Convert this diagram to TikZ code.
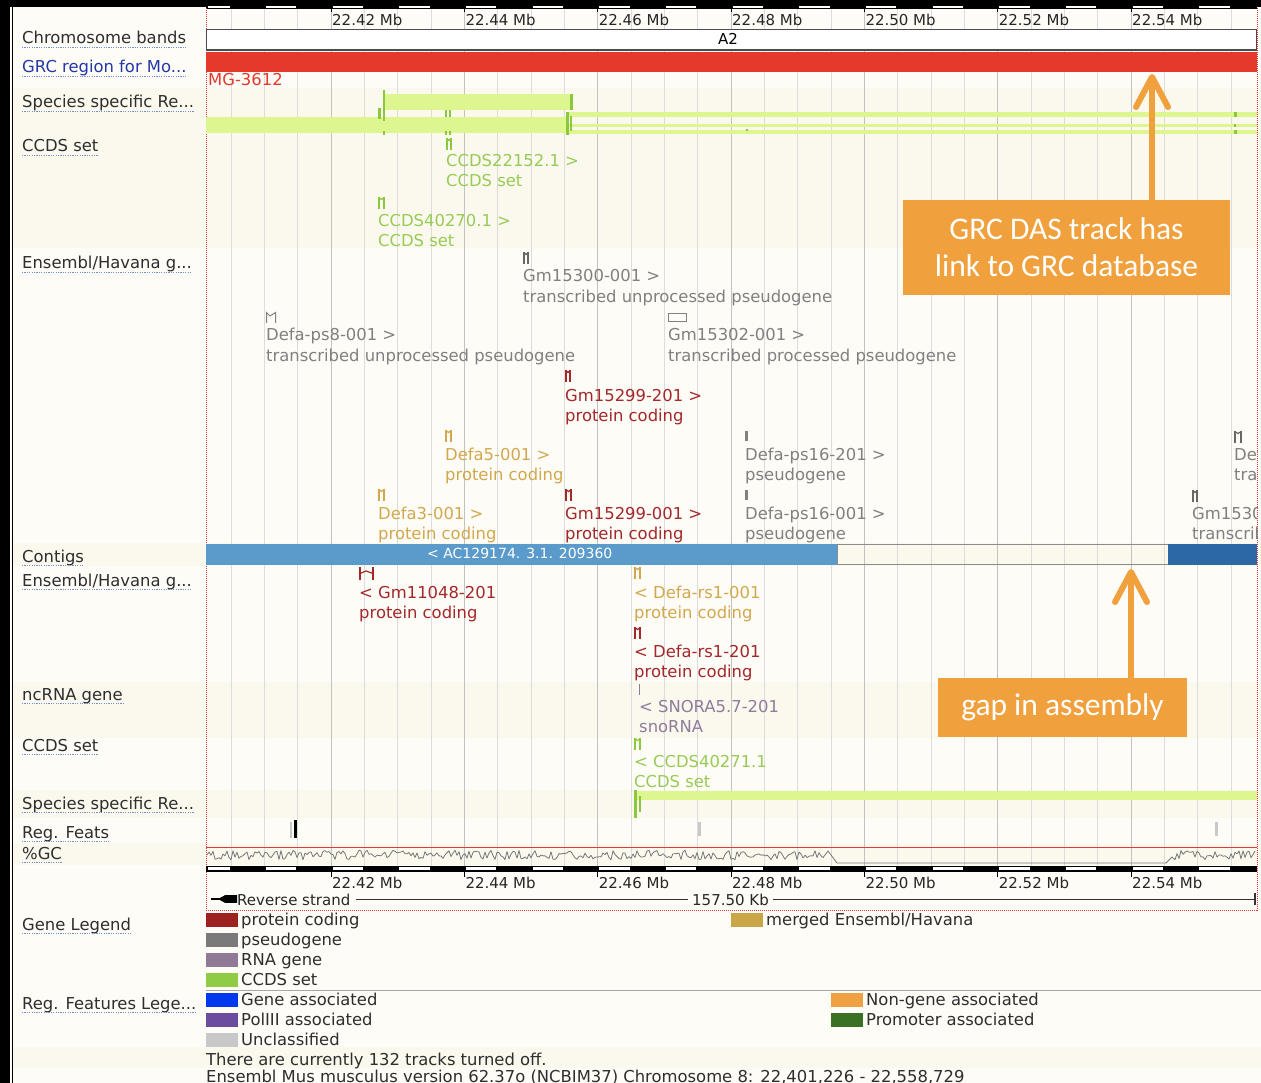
\documentclass[tikz,border=0pt]{standalone}
\usepackage{fontspec}
\setmainfont{DejaVu Sans}
\newfontfamily\calloutfont{Carlito}

\definecolor{panelbg}{HTML}{FEFCF7}
\definecolor{stripebg}{HTML}{FBF9EE}
\definecolor{gridc}{HTML}{DCDCDC}
\definecolor{gridmaj}{HTML}{C2C2C2}
\definecolor{lbltxt}{HTML}{2E2E2E}
\definecolor{lnkblue}{HTML}{7090D0}
\definecolor{grcblue}{HTML}{2438A8}
\definecolor{grcred}{HTML}{E4392B}
\definecolor{sppale}{HTML}{DEF690}
\definecolor{spdark}{HTML}{8CC83C}
\definecolor{ccdstxt}{HTML}{97CB55}
\definecolor{pseudo}{HTML}{808080}
\definecolor{protc}{HTML}{A3282A}
\definecolor{merged}{HTML}{D2A84E}
\definecolor{rnac}{HTML}{8F7C9C}
\definecolor{ctgblue}{HTML}{5B9BCB}
\definecolor{ctgdark}{HTML}{2C68A3}
\definecolor{callout}{HTML}{F0A03C}
\definecolor{gcc}{HTML}{777777}
\definecolor{framered}{HTML}{E03A3A}
\definecolor{swprot}{HTML}{9B221E}
\definecolor{swpseudo}{HTML}{7A7A7A}
\definecolor{swrna}{HTML}{917A97}
\definecolor{swccds}{HTML}{8FCB45}
\definecolor{swmerged}{HTML}{C9A646}
\definecolor{swgene}{HTML}{0038F0}
\definecolor{swpol}{HTML}{6B4C9E}
\definecolor{swuncl}{HTML}{C8C8C8}
\definecolor{swnongene}{HTML}{EFA042}
\definecolor{swprom}{HTML}{3B7124}

% track name on the left, with a dotted link underline
\newcommand\tracklabel[4][lbltxt]{%
  \node[lbl,text=#1] (#2) at (22,#3) {#4};
  \draw[lnkblue,line width=0.9,dash pattern=on 1.2pt off 1.2pt]
    ([yshift=-3pt]#2.base west) -- ([yshift=-3pt]#2.base east);
}
% two-line feature caption: name, x, baseline, colour, first line, second line
\newcommand\genelabel[6]{%
  \node[lbl,text=#4] (#1a) at (#2,#3) {#5};
  \node[lbl,text=#4] (#1b) at (#2,{#3+20}) {#6};
}
% small transcript glyph: x, top, width, colour
\newcommand\exonpair[4]{%
  \fill[#4] (#1,#2) rectangle ({#1+2.4},{#2+12});
  \fill[#4] ({#1+#3-2.4},#2) rectangle ({#1+#3},{#2+12});
  \draw[#4,line width=1.2] ({#1+1},{#2+0.6}) -- ({#1+#3/2},{#2+2.5}) -- ({#1+#3-1},{#2+0.6});
}
% legend entry: name, x, top, colour, text
\newcommand\legitem[5]{%
  \fill[#4] (#2,#3) rectangle ({#2+32},{#3+14});
  \node[lbl,text=lbltxt] (#1) at ({#2+35},{#3+12}) {#5};
}

\begin{document}
\begin{tikzpicture}[x=1pt,y=-1pt,
  lbl/.style={anchor=base west,inner sep=0pt,font=\fontsize{16.4}{19}\selectfont},
  rul/.style={anchor=base west,inner sep=0pt,font=\fontsize{15}{18}\selectfont,text=black!85},
  callbox/.style={fill=callout,text=white,align=center,inner sep=0pt,
    font=\calloutfont\fontsize{31.5}{37}\selectfont},
  callarrow/.style={callout,line width=6,line cap=round,line join=round}]

\useasboundingbox (0,0) rectangle (1261,1083);

% page and row shading
\fill[panelbg] (0,0) rectangle (1261,1083);
\foreach \ya/\yb in {88/248,543/566,682/738,790/818,843/865,1047/1068}
  \fill[stripebg] (13,\ya) rectangle (1261,\yb);

% outer dark frame
\fill[black] (0,0) rectangle (1261,7);
\fill[black] (0,0) rectangle (10,1083);
\draw[black,line width=1.2] (12.6,0) -- (12.6,1083);

% vertical grid (every 5 kb)
\foreach \k in {-3,...,27}
  \draw[gridc,line width=0.9] ({331+33.333*\k},8) -- ({331+33.333*\k},866);
\foreach \k in {0,...,6}
  \draw[gridmaj,line width=1] ({331+133.333*\k},8) -- ({331+133.333*\k},866);

% top scale bar
\fill[black] (206,0) rectangle (1257,9);
\fill[white] (207.5,6.3) rectangle (229.5,8.2);
\foreach \j in {1,...,15}
  \fill[white] ({197.67+66.667*\j+1.5},6.3) rectangle ({231+66.667*\j-1.5},8.2);
\foreach \k/\t in {0/22.42,1/22.44,2/22.46,3/22.48,4/22.50,5/22.52,6/22.54}{
  \draw[black,line width=1] ({331+133.333*\k},8) -- ({331+133.333*\k},12);
  \node[rul] (tl\k) at ({331+133.333*\k+1},26) {\t\ Mb};
}

% red dotted image frame
\draw[framered,line width=0.9,dash pattern=on 1pt off 1pt]
  (206,8) -- (206,910) -- (1257,910) -- (1257,8);

% track names
\tracklabel{lchr}{44}{Chromosome bands}
\tracklabel[grcblue]{lgrc}{73}{GRC region for Mo...}
\tracklabel{lsp}{108}{Species specific Re...}
\tracklabel{lccds}{152}{CCDS set}
\tracklabel{lens}{269}{Ensembl/Havana g...}
\tracklabel{lctg}{562}{Contigs}
\tracklabel{lensr}{586}{Ensembl/Havana g...}
\tracklabel{lnc}{700}{ncRNA gene}
\tracklabel{lccdsr}{751}{CCDS set}
\tracklabel{lspr}{809}{Species specific Re...}
\tracklabel{lreg}{838}{Reg. Feats}
\tracklabel{lgc}{859}{\%GC}
\tracklabel{lgleg}{930}{Gene Legend}
\tracklabel{lrleg}{1009}{Reg. Features Lege...}

\begin{scope}
\clip (206,0) rectangle (1257,911);

% chromosome band
\draw[black!70,line width=1.5,fill=white] (206.5,29.5) rectangle (1256.5,50);
\node[anchor=base,inner sep=0pt,font=\fontsize{15}{18}\selectfont] (band) at (728,45) {A2};

% GRC region
\fill[grcred] (206,52.5) rectangle (1257,72);
\node[lbl,text=grcred] (mg) at (208,86) {MG-3612};

% species specific repeats, forward strand
\fill[sppale] (384,94) rectangle (572,110);
\fill[sppale] (206,117) rectangle (567,133);
\fill[sppale] (567,112) rectangle (1257,117.5);
\fill[sppale] (567,124) rectangle (1257,127);
\fill[sppale] (567,130.5) rectangle (1257,134);
\fill[spdark] (382.5,90) rectangle (385,121);
\fill[spdark] (378,108) rectangle (380.5,119);
\fill[spdark] (382.5,131) rectangle (385,135);
\fill[spdark] (570,94) rectangle (573,110);
\fill[spdark] (445,110) rectangle (447,117);
\fill[spdark] (449,110) rectangle (451,117);
\fill[spdark] (445,131) rectangle (447,135);
\fill[spdark] (449,131) rectangle (451,135);
\fill[spdark] (566,112) rectangle (568.5,135);
\fill[spdark] (569.5,116) rectangle (572,131);
\fill[spdark] (746,129.5) rectangle (748,131.5);
\fill[spdark] (1234,112) rectangle (1237,117.5);
\fill[spdark] (1234,124) rectangle (1236,127);
\fill[spdark] (1234,130.5) rectangle (1236.5,134.5);

% CCDS, forward strand
\exonpair{446}{138}{6}{spdark}
\genelabel{c1}{446}{167}{ccdstxt}{CCDS22152.1 >}{CCDS set}
\exonpair{378}{197}{7}{spdark}
\genelabel{c2}{378}{227}{ccdstxt}{CCDS40270.1 >}{CCDS set}

% Ensembl/Havana genes, forward strand
\exonpair{523}{252}{6}{pseudo!80!black}
\genelabel{g1}{523}{282}{pseudo}{Gm15300-001 >}{transcribed unprocessed pseudogene}
\draw[pseudo,line width=1] (266.5,323) -- (266.5,312.5) -- (270,316) -- (275.5,312.5) -- (275.5,323);
\genelabel{g2}{266}{341}{pseudo}{Defa-ps8-001 >}{transcribed unprocessed pseudogene}
\draw[pseudo,line width=1] (668.5,313.5) rectangle (686.5,321.5);
\genelabel{g3}{668}{341}{pseudo}{Gm15302-001 >}{transcribed processed pseudogene}
\exonpair{565}{370}{6}{protc}
\genelabel{g4}{565}{401}{protc}{Gm15299-201 >}{protein coding}
\exonpair{445}{430}{7}{merged}
\genelabel{g5}{445}{460}{merged}{Defa5-001 >}{protein coding}
\fill[pseudo] (745,431) rectangle (748,441);
\genelabel{g6}{745}{460}{pseudo}{Defa-ps16-201 >}{pseudogene}
\exonpair{1234}{431}{8}{pseudo!80!black}
\genelabel{g7}{1234}{460}{pseudo}{Defa}{trans}
\exonpair{378}{489}{7}{merged}
\genelabel{g8}{378}{519}{merged}{Defa3-001 >}{protein coding}
\exonpair{565}{489}{7}{protc}
\genelabel{g9}{565}{519}{protc}{Gm15299-001 >}{protein coding}
\fill[pseudo] (745,490) rectangle (748,500);
\genelabel{g10}{745}{519}{pseudo}{Defa-ps16-001 >}{pseudogene}
\exonpair{1192}{490}{6}{pseudo!80!black}
\genelabel{g11}{1192}{519}{pseudo}{Gm1530}{transcrib}

% contigs
\fill[ctgblue] (206,544) rectangle (837,564.5);
\draw[black!45,line width=1] (837,544.5) rectangle (1168,564);
\fill[ctgdark] (1168,544) rectangle (1257,564.5);
\node[anchor=base west,inner sep=0pt,font=\fontsize{14}{17}\selectfont,text=white] (ctg) at (427,558) {< AC129174. 3.1. 209360};

% Ensembl/Havana genes, reverse strand
\fill[protc] (359,567) rectangle (361.2,580);
\fill[protc] (371.5,567) rectangle (374,580);
\draw[protc,line width=1.2] (360,573.5) -- (366,571) -- (373,573.5);
\genelabel{r1}{359}{598}{protc}{< Gm11048-201}{protein coding}
\exonpair{634}{567}{7}{merged}
\genelabel{r2}{634}{598}{merged}{< Defa-rs1-001}{protein coding}
\exonpair{634}{627}{7}{protc}
\genelabel{r3}{634}{657}{protc}{< Defa-rs1-201}{protein coding}

% ncRNA
\draw[rnac,line width=1] (639.5,684) -- (639.5,695);
\genelabel{n1}{639}{712}{rnac}{< SNORA5.7-201}{snoRNA}

% CCDS, reverse strand
\exonpair{634}{738}{7}{spdark}
\genelabel{c3}{634}{767}{ccdstxt}{< CCDS40271.1}{CCDS set}

% species specific repeats, reverse strand
\fill[sppale] (634,791) rectangle (1257,800);
\fill[spdark] (633.5,790) rectangle (636.5,818);
\fill[spdark] (638.5,796) rectangle (641,812);

% regulatory features
\fill[swuncl] (289.5,822) rectangle (292,838);
\fill[black] (294,820) rectangle (296.5,838);
\fill[swuncl] (698,822) rectangle (700.5,836);
\fill[swuncl] (1215,822) rectangle (1217.5,836);

% %GC profile
\draw[framered,line width=1.2] (206,847.5) -- (1257,847.5);
\pgfmathsetseed{42}
\draw[gcc,line width=0.8,line join=round] (207,855)
  \foreach \x in {209,211,...,823}{ -- (\x,{855+4.8*rand})}
  -- (828,851) -- (837,863) -- (1166,863) -- (1172,857)
  \foreach \x in {1175,1177,...,1255}{ -- (\x,{855+4.8*rand})};

% bottom scale bar
\fill[black] (206,865.5) rectangle (1257,872);
\fill[white] (207.5,867.3) rectangle (229.5,869.8);
\foreach \j in {1,...,15}
  \fill[white] ({197.67+66.667*\j+1.5},867.3) rectangle ({231+66.667*\j-1.5},869.8);
\foreach \k/\t in {0/22.42,1/22.44,2/22.46,3/22.48,4/22.50,5/22.52,6/22.54}{
  \draw[black,line width=1] ({331+133.333*\k},872) -- ({331+133.333*\k},877);
  \node[rul] (bl\k) at ({331+133.333*\k+1},888) {\t\ Mb};
}

% strand and length line
\node[rul] (strand) at (237,905) {Reverse strand};
\node[rul] (span) at (692,905) {157.50 Kb};
\draw[black,line width=1.2] (211,899) -- (strand.west |- 0,899);
\fill[black] (218,899) -- (225,895.2) -- (237,895.2) -- (237,902.8) -- (225,902.8) -- cycle;
\draw[black!80,line width=1] ([xshift=5pt]strand.east |- 0,899) -- ([xshift=-4pt]span.west |- 0,899);
\draw[black!80,line width=1] ([xshift=4pt]span.east |- 0,899) -- (1255,899);
\draw[black!80,line width=1.2] (1255,893) -- (1255,905);
\end{scope}

% legends
\legitem{lp}{206}{913}{swprot}{protein coding}
\legitem{lps}{206}{933}{swpseudo}{pseudogene}
\legitem{lr}{206}{953}{swrna}{RNA gene}
\legitem{lc}{206}{973}{swccds}{CCDS set}
\legitem{lm}{731}{913}{swmerged}{merged Ensembl/Havana}
\draw[black!35,line width=1] (206,990.5) -- (1261,990.5);
\legitem{lga}{206}{993}{swgene}{Gene associated}
\legitem{lpol}{206}{1013}{swpol}{PolIII associated}
\legitem{lun}{206}{1033}{swuncl}{Unclassified}
\legitem{lng}{831}{993}{swnongene}{Non-gene associated}
\legitem{lpr}{831}{1013}{swprom}{Promoter associated}
\node[lbl,text=lbltxt] (off) at (206,1065) {There are currently 132 tracks turned off.};
\node[lbl,text=lbltxt] (ver) at (206,1082) {Ensembl Mus musculus version 62.37o (NCBIM37) Chromosome 8: 22,401,226 - 22,558,729};

% annotations
\node[callbox,minimum width=327,minimum height=95] (grcnote) at (1066.5,247.5)
  {GRC DAS track has\\link to GRC database};
\coordinate (grctip) at (1152,77);
\draw[callarrow] ([xshift=85.5pt]grcnote.north) -- ([yshift=-3pt]grctip);
\draw[callarrow] ([shift={(-16pt,-30pt)}]grctip) -- (grctip) -- ([shift={(16pt,-30pt)}]grctip);

\node[callbox,minimum width=249,minimum height=59] (gapnote) at (1062.5,707.5)
  {gap in assembly};
\coordinate (gaptip) at (1131,572);
\draw[callarrow] ([xshift=68.5pt]gapnote.north) -- ([yshift=-3pt]gaptip);
\draw[callarrow] ([shift={(-16pt,-30pt)}]gaptip) -- (gaptip) -- ([shift={(16pt,-30pt)}]gaptip);
\end{tikzpicture}
\end{document}
